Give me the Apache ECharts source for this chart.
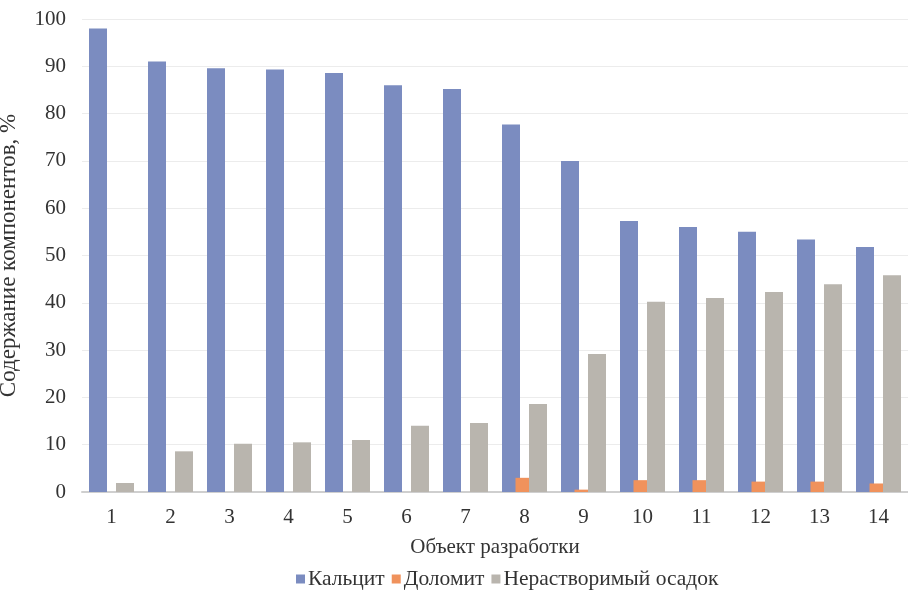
<!DOCTYPE html>
<html><head><meta charset="utf-8">
<script src="https://cdn.jsdelivr.net/npm/echarts@6/dist/echarts.min.js"></script>
<style>html,body{margin:0;padding:0;background:#fff}#c{width:908px;height:608px}</style>
</head><body><div id="c"></div>
<script>
const categories = ['1','2','3','4','5','6','7','8','9','10','11','12','13','14'];
const calcite = [98, 91, 89.6, 89.3, 88.6, 86, 85.2, 77.7, 70, 57.3, 56, 55, 53.4, 51.8];
const dolomite = [0, 0, 0, 0, 0, 0, 0, 3, 0.5, 2.5, 2.5, 2.2, 2.2, 1.8];
const insoluble = [1.9, 8.6, 10.2, 10.5, 11, 14, 14.6, 18.6, 29.2, 40.2, 41, 42.3, 43.9, 45.8];
const seriesNames = ['Кальцит', 'Доломит', 'Нерастворимый осадок'];
const yTicks = { min: 0, max: 100, interval: 10 };

const font = 'Liberation Serif';
const chart = echarts.init(document.getElementById('c'), null, { renderer: 'canvas' });
const colors = ['#7b8cc0', '#f0925c', '#b9b5ae'];
chart.setOption({
  animation: false,
  textStyle: { fontFamily: font },
  grid: { left: 82, right: 0, top: 19, bottom: 116, outerBoundsMode: 'none', containLabel: false },
  legend: {
    bottom: 13, left: 291, itemWidth: 9, itemHeight: 9, itemGap: 7,
    icon: 'rect',
    textStyle: { fontFamily: font, fontSize: 21.5, color: '#333', padding: [0, 0, 0, -2] },
    data: seriesNames
  },
  xAxis: {
    type: 'category', data: categories,
    name: 'Объект разработки', nameLocation: 'middle', nameGap: 45, nameMoveOverlap: false,
    nameTextStyle: { fontFamily: font, fontSize: 21, color: '#333' },
    axisLine: { lineStyle: { color: '#cfcfcf', width: 2 } },
    axisTick: { show: false },
    axisLabel: { fontFamily: font, fontSize: 21, color: '#333', margin: 15 }
  },
  yAxis: {
    type: 'value', min: yTicks.min, max: yTicks.max, interval: yTicks.interval,
    name: 'Содержание компонентов, %', nameLocation: 'middle', nameGap: 62, nameMoveOverlap: false,
    nameTextStyle: { fontFamily: font, fontSize: 23, color: '#333' },
    axisLine: { show: false }, axisTick: { show: false },
    axisLabel: { fontFamily: font, fontSize: 21, color: '#333', margin: 16 },
    splitLine: { lineStyle: { color: '#ececec', width: 1 } }
  },
  series: [
    { name: seriesNames[0], type: 'bar', data: calcite, barWidth: 18, barGap: '-25%', itemStyle: { color: colors[0] } },
    { name: seriesNames[1], type: 'bar', data: dolomite, barWidth: 18, barGap: '-25%', itemStyle: { color: colors[1] } },
    { name: seriesNames[2], type: 'bar', data: insoluble, barWidth: 18, barGap: '-25%', itemStyle: { color: colors[2] } }
  ]
});
</script></body></html>
